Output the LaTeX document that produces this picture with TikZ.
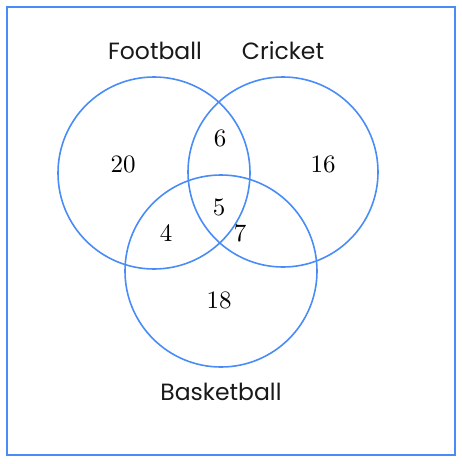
\documentclass[tikz,border=0pt]{standalone}
\usepackage{fontspec}
\newfontfamily\poppins{Poppins}
\newfontfamily\numfont{lmroman10-regular}[Extension=.otf]
\definecolor{vblue}{HTML}{4A8CF7}
\begin{document}
\begin{tikzpicture}[x=1pt,y=-1pt,
  setcircle/.style={draw=vblue,line width=1.6pt},
  setlabel/.style={font=\poppins\fontsize{23.5pt}{26pt}\selectfont,text=black!90},
  count/.style={font=\numfont\fontsize{25pt}{30pt}\selectfont}]
\useasboundingbox (0,0) rectangle (462,464);
\node[draw=vblue,line width=1.6pt,minimum width=448pt,minimum height=448pt,inner sep=0pt] (frame) at (231,231) {};
\draw[setcircle] (154,173) circle (96) coordinate (fb);
\draw[setcircle] (283,172) circle (95) coordinate (cr);
\draw[setcircle] (221,271) circle (96) coordinate (bb);
\node[setlabel] (lf) at (155,51) {Football};
\node[setlabel] (lc) at (283,51) {Cricket};
\node[setlabel] (lb) at (221,392) {Basketball};
\node[count] (n20) at (123,164) {20};
\node[count] (n6) at (220,138) {6};
\node[count] (n16) at (323,164) {16};
\node[count] (n5) at (219,207) {5};
\node[count] (n4) at (166,233) {4};
\node[count] (n7) at (240,233) {7};
\node[count] (n18) at (219,300) {18};
\end{tikzpicture}
\end{document}
